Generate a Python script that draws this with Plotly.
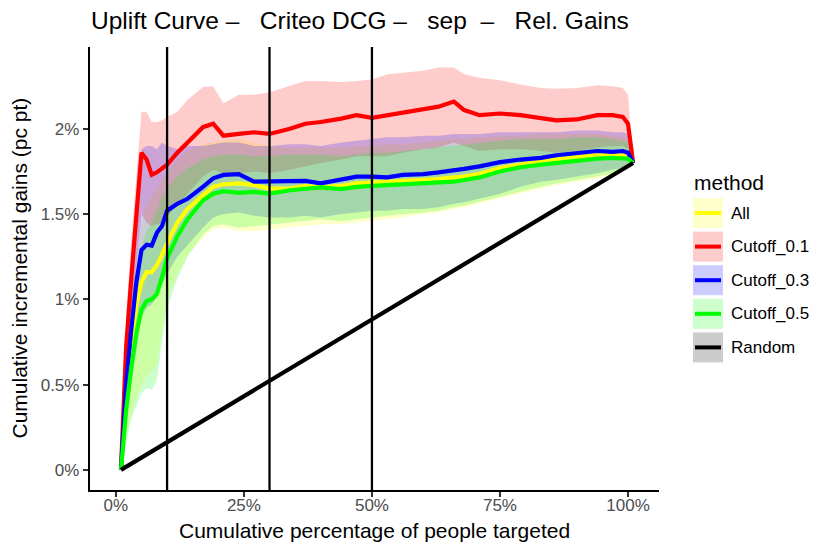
import plotly.graph_objects as go

# ---------------- data ----------------
x_pct = [1, 2, 3, 4, 5, 6, 7, 8, 9, 10, 12, 14, 17, 19, 21, 24, 27, 30, 34, 37, 40,
         44, 47, 50, 53, 56, 60, 63, 66, 68, 71, 75, 79, 83, 86, 90, 94, 97, 99, 100, 101]

all_mean = [0, 0.42, 0.75, 0.97, 1.10, 1.16, 1.16, 1.20, 1.26, 1.33, 1.45, 1.53, 1.61, 1.66, 1.675,
            1.68, 1.67, 1.65, 1.65, 1.665, 1.657, 1.665, 1.68, 1.685, 1.685, 1.69, 1.70,
            1.706, 1.715, 1.72, 1.735, 1.77, 1.79, 1.81, 1.82, 1.835, 1.85, 1.85, 1.845, 1.84, 1.80]
all_lo = [0, 0.2, 0.32, 0.42, 0.5, 0.55, 0.58, 0.62, 0.8, 1.0, 1.15, 1.26, 1.36, 1.41, 1.42,
          1.40, 1.40, 1.41, 1.42, 1.43, 1.44, 1.44, 1.45, 1.46, 1.47, 1.48, 1.50,
          1.51, 1.53, 1.54, 1.56, 1.59, 1.62, 1.65, 1.67, 1.69, 1.71, 1.73, 1.75, 1.76, 1.80]
all_hi = [0, 0.65, 1.0, 1.25, 1.45, 1.55, 1.6, 1.65, 1.7, 1.75, 1.82, 1.87, 1.91, 1.92, 1.93,
          1.94, 1.92, 1.90, 1.89, 1.89, 1.89, 1.89, 1.90, 1.90, 1.91, 1.91, 1.92,
          1.93, 1.94, 1.94, 1.95, 1.96, 1.96, 1.97, 1.97, 1.97, 1.97, 1.96, 1.95, 1.94, 1.80]

c01_mean = [0, 0.72, 1.12, 1.50, 1.86, 1.82, 1.73, 1.745, 1.77, 1.79, 1.86, 1.92, 2.01, 2.03, 1.96,
            1.97, 1.98, 1.97, 2.00, 2.03, 2.04, 2.06, 2.08, 2.065, 2.08, 2.10, 2.12,
            2.13, 2.16, 2.11, 2.08, 2.09, 2.08, 2.06, 2.05, 2.055, 2.08, 2.08, 2.07, 2.03, 1.80]
c01_lo = [0, 0.55, 0.9, 1.2, 1.5, 1.45, 1.43, 1.44, 1.45, 1.48, 1.55, 1.62, 1.72, 1.76, 1.74,
          1.74, 1.75, 1.74, 1.76, 1.78, 1.80, 1.82, 1.84, 1.84, 1.84, 1.86, 1.88,
          1.89, 1.92, 1.90, 1.87, 1.88, 1.88, 1.87, 1.86, 1.87, 1.89, 1.90, 1.90, 1.88, 1.80]
c01_hi = [0, 0.9, 1.35, 1.7, 2.10, 2.10, 2.04, 2.04, 2.05, 2.07, 2.10, 2.17, 2.245, 2.25, 2.15,
          2.20, 2.20, 2.215, 2.25, 2.28, 2.28, 2.275, 2.28, 2.29, 2.32, 2.33, 2.34,
          2.36, 2.36, 2.32, 2.30, 2.285, 2.26, 2.24, 2.235, 2.24, 2.255, 2.25, 2.24, 2.20, 1.80]

c03_mean = [0, 0.5, 0.82, 1.10, 1.29, 1.32, 1.315, 1.39, 1.43, 1.52, 1.56, 1.59, 1.66, 1.71, 1.73,
            1.735, 1.69, 1.69, 1.69, 1.695, 1.68, 1.70, 1.72, 1.72, 1.715, 1.73, 1.735,
            1.745, 1.755, 1.765, 1.78, 1.805, 1.82, 1.83, 1.845, 1.86, 1.87, 1.865, 1.87, 1.86, 1.80]
c03_lo = [0, 0.3, 0.5, 0.7, 0.9, 0.95, 0.97, 1.02, 1.08, 1.15, 1.25, 1.32, 1.42, 1.48, 1.50,
          1.51, 1.49, 1.48, 1.48, 1.49, 1.48, 1.50, 1.51, 1.52, 1.52, 1.53, 1.53,
          1.54, 1.56, 1.57, 1.59, 1.62, 1.66, 1.69, 1.70, 1.72, 1.74, 1.76, 1.77, 1.78, 1.80]
c03_hi = [0, 0.7, 1.1, 1.5, 1.88, 1.90, 1.90, 1.88, 1.92, 1.90, 1.88, 1.90, 1.90, 1.91, 1.92,
          1.92, 1.90, 1.90, 1.91, 1.91, 1.90, 1.92, 1.93, 1.94, 1.95, 1.95, 1.96,
          1.96, 1.97, 1.97, 1.97, 1.98, 1.98, 1.98, 1.98, 1.99, 1.99, 1.98, 1.98, 1.97, 1.80]

c05_mean = [0, 0.35, 0.6, 0.80, 0.94, 0.99, 1.00, 1.03, 1.13, 1.24, 1.37, 1.47, 1.58, 1.62, 1.635,
            1.625, 1.63, 1.62, 1.64, 1.65, 1.657, 1.647, 1.66, 1.665, 1.67, 1.675, 1.68,
            1.686, 1.69, 1.70, 1.715, 1.75, 1.775, 1.79, 1.80, 1.81, 1.825, 1.83, 1.83, 1.825, 1.80]
c05_lo = [0, 0.15, 0.3, 0.38, 0.45, 0.48, 0.47, 0.52, 0.75, 0.95, 1.12, 1.25, 1.38, 1.43, 1.44,
          1.42, 1.43, 1.44, 1.45, 1.46, 1.47, 1.46, 1.47, 1.48, 1.49, 1.50, 1.51,
          1.52, 1.54, 1.55, 1.57, 1.60, 1.63, 1.66, 1.68, 1.70, 1.72, 1.74, 1.76, 1.77, 1.80]
c05_hi = [0, 0.6, 0.9, 1.1, 1.3, 1.4, 1.45, 1.52, 1.6, 1.65, 1.72, 1.77, 1.82, 1.84, 1.85,
          1.85, 1.84, 1.84, 1.85, 1.85, 1.85, 1.84, 1.85, 1.86, 1.86, 1.87, 1.88,
          1.89, 1.90, 1.91, 1.92, 1.93, 1.94, 1.94, 1.94, 1.95, 1.95, 1.94, 1.93, 1.92, 1.80]

random_x = [1, 101]
random_y = [0, 1.80]

vline_x = [10, 30, 50]

methods = ["All", "Cutoff_0.1", "Cutoff_0.3", "Cutoff_0.5", "Random"]
x_tickvals = [0, 25, 50, 75, 100]
x_ticktext = ["0%", "25%", "50%", "75%", "100%"]
y_tickvals = [0, 0.5, 1, 1.5, 2]
y_ticktext = ["0%", "0.5%", "1%", "1.5%", "2%"]

# ---------------- styling ----------------
line_col = {"All": "#FFFF00", "Cutoff_0.1": "#FF0000", "Cutoff_0.3": "#0000FF",
            "Cutoff_0.5": "#00FF00", "Random": "#000000"}
rgb = {"All": (255, 255, 0), "Cutoff_0.1": (255, 0, 0), "Cutoff_0.3": (0, 0, 255),
       "Cutoff_0.5": (0, 255, 0), "Random": (0, 0, 0)}
ALPHA = 0.2


def rgba(m, a=ALPHA):
    r, g, b = rgb[m]
    return f"rgba({r},{g},{b},{a})"


def key_fill(m):
    r, g, b = rgb[m]
    return "rgb(%d,%d,%d)" % tuple(round(255 * (1 - ALPHA) + c * ALPHA) for c in (r, g, b))


series = {
    "All": (all_mean, all_lo, all_hi),
    "Cutoff_0.1": (c01_mean, c01_lo, c01_hi),
    "Cutoff_0.3": (c03_mean, c03_lo, c03_hi),
    "Cutoff_0.5": (c05_mean, c05_lo, c05_hi),
}

W, H = 830, 554
OFF = 8  # page body margin offset
L, R, T, B = 90 - OFF, 659 - OFF, 47 - OFF, 490 - OFF  # panel in figure pixels
FONT = "Liberation Sans, Arial, Helvetica, sans-serif"


def pxx(px):  # px given in screenshot coordinates
    return (px - OFF - L) / (R - L)


def pxy(py):
    return (B - (py - OFF)) / (B - T)


fig = go.Figure()

# ribbons
for m, (mean, lo, hi) in series.items():
    fig.add_trace(go.Scatter(
        x=x_pct + x_pct[::-1], y=hi + lo[::-1], fill="toself", fillcolor=rgba(m),
        mode="lines", line=dict(width=0), hoverinfo="skip", showlegend=False))

# lines
for m, (mean, lo, hi) in series.items():
    fig.add_trace(go.Scatter(x=x_pct, y=mean, mode="lines", name=m,
                             line=dict(color=line_col[m], width=4.2), showlegend=False))
fig.add_trace(go.Scatter(x=random_x, y=random_y, mode="lines", name="Random",
                         line=dict(color="#000000", width=4.2), showlegend=False))

shapes = []
for v in vline_x:
    shapes.append(dict(type="line", xref="x", yref="paper", x0=v, x1=v, y0=0, y1=1,
                       line=dict(color="black", width=2.3), layer="above"))

annotations = []
# legend (drawn manually in ggplot style)
annotations.append(dict(text="method", xref="paper", yref="paper", x=pxx(692), y=pxy(182),
                        xanchor="left", yanchor="middle", showarrow=False,
                        font=dict(family=FONT, size=21, color="black")))
row0, step = 213, 33.6
for i, m in enumerate(methods):
    cy = row0 + i * step
    shapes.append(dict(type="rect", xref="paper", yref="paper",
                       x0=pxx(693), x1=pxx(723), y0=pxy(cy - 15), y1=pxy(cy + 15),
                       fillcolor=key_fill(m), line=dict(width=0), layer="above"))
    shapes.append(dict(type="line", xref="paper", yref="paper",
                       x0=pxx(695), x1=pxx(721), y0=pxy(cy), y1=pxy(cy),
                       line=dict(color=line_col[m], width=4), layer="above"))
    annotations.append(dict(text=m, xref="paper", yref="paper", x=pxx(729), y=pxy(cy),
                            xanchor="left", yanchor="middle", showarrow=False,
                            font=dict(family=FONT, size=17, color="black")))

# axis titles
annotations.append(dict(text="Cumulative percentage of people targeted", xref="paper", yref="paper",
                        x=0.5, y=pxy(530), xanchor="center", yanchor="middle", showarrow=False,
                        font=dict(family=FONT, size=21, color="black")))
annotations.append(dict(text="Cumulative incremental gains (pc pt)", xref="paper", yref="paper",
                        x=pxx(19), y=0.5, xanchor="center", yanchor="middle", showarrow=False,
                        textangle=-90, font=dict(family=FONT, size=21, color="black")))

nb = "\u00a0"
title_text = (f"Uplift Curve{nb}–{nb*3}Criteo DCG{nb}–{nb*3}sep{nb*2}–{nb*3}Rel. Gains")

fig.update_layout(
    width=W, height=H,
    margin=dict(l=L, r=W - R, t=T, b=H - B, autoexpand=False),
    paper_bgcolor="white", plot_bgcolor="white",
    title=dict(text=title_text, xref="paper", x=pxx(91), xanchor="left",
               yref="container", y=1 - (20 - OFF) / H, yanchor="middle",
               font=dict(family=FONT, size=24.5, color="black")),
    xaxis=dict(range=[-5.05, 106.05], tickvals=x_tickvals, ticktext=x_ticktext,
               showgrid=False, zeroline=False, showline=True, linecolor="black", linewidth=2.3,
               ticks="outside", ticklen=5, tickwidth=2, tickcolor="#333333",
               ticklabelstandoff=-7,
               tickfont=dict(family=FONT, size=17, color="#4D4D4D")),
    yaxis=dict(range=[-0.118, 2.48], tickvals=y_tickvals, ticktext=y_ticktext,
               showgrid=False, zeroline=False, showline=True, linecolor="black", linewidth=2.3,
               ticks="outside", ticklen=5, tickwidth=2, tickcolor="#333333",
               tickfont=dict(family=FONT, size=17, color="#4D4D4D")),
    shapes=shapes, annotations=annotations, showlegend=False,
)

fig.write_html("out.html", config={"displayModeBar": False})
